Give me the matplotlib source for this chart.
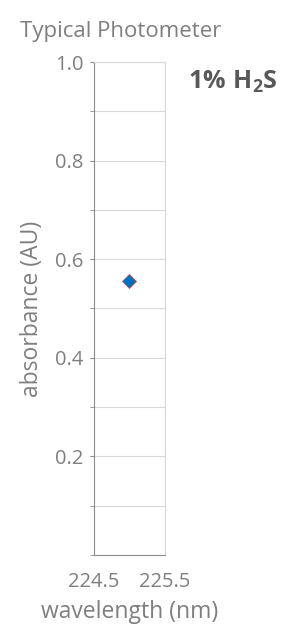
import numpy as np
import matplotlib
matplotlib.use("Agg")
import matplotlib.pyplot as plt
import matplotlib.ticker as ticker

plt.rcParams['font.family'] = ['Open Sans', 'DejaVu Sans']
plt.rcParams['mathtext.fontset'] = 'custom'
plt.rcParams['mathtext.rm'] = 'Open Sans'
plt.rcParams['mathtext.bf'] = 'Open Sans:bold'

# data
wavelength = [225.0]
absorbance = [0.555]
x_ticks = [224.5, 225.5]
y_ticks = [0.2, 0.4, 0.6, 0.8, 1.0]

W, H = 288, 629
fig = plt.figure(figsize=[W/100, H/100], dpi=100)
ax = fig.add_axes([93.5/W, 1-555/H, (165-93.5)/W, (555-62)/H])

txt = "#7f7f7f"
ax.plot(wavelength, absorbance, marker="D", ms=7, color="#0070c0",
        mec="#c0504d", mew=0.6, ls="none", zorder=3, clip_on=False)

ax.set_xlim(224.5, 225.5)
ax.set_ylim(0, 1.0)
ax.set_xticks(x_ticks)
ax.xaxis.set_major_formatter(ticker.FormatStrFormatter("%.1f"))
ax.set_yticks(y_ticks)
ax.yaxis.set_major_formatter(ticker.FormatStrFormatter("%.1f"))
ax.yaxis.set_minor_locator(ticker.MultipleLocator(0.1))
ax.grid(True, which="both", axis="y", color="#d9d9d9", linewidth=0.8)
ax.set_axisbelow(True)

for s in ["top", "right"]:
    ax.spines[s].set_color("#d9d9d9")
for s in ["left", "bottom"]:
    ax.spines[s].set_color("#8c8c8c")
for sp in ax.spines.values():
    sp.set_linewidth(0.8)

ax.tick_params(axis="y", which="both", direction="out", length=3, color="#8c8c8c",
               labelsize=14.5, labelcolor=txt, pad=4)
ax.tick_params(axis="x", which="major", direction="out", length=0,
               labelsize=14.5, labelcolor=txt, pad=12)
ax.set_xticks([224.5], minor=True)
ax.tick_params(axis="x", which="minor", length=3, color="#8c8c8c")

ax.set_ylabel("absorbance (AU)", fontsize=16.5, color=txt, labelpad=8)
ax.set_xlabel("wavelength (nm)", fontsize=16.5, color=txt, labelpad=6)

fig.text(20/W, 1-31/H, "Typical Photometer", fontsize=16, color=txt, va="center")
fig.text(188/W, 1-82/H, r"$\mathbf{1\%\ H_2S}$", fontsize=18, color="#595959", va="center")

fig.savefig("out.png", dpi=100)
